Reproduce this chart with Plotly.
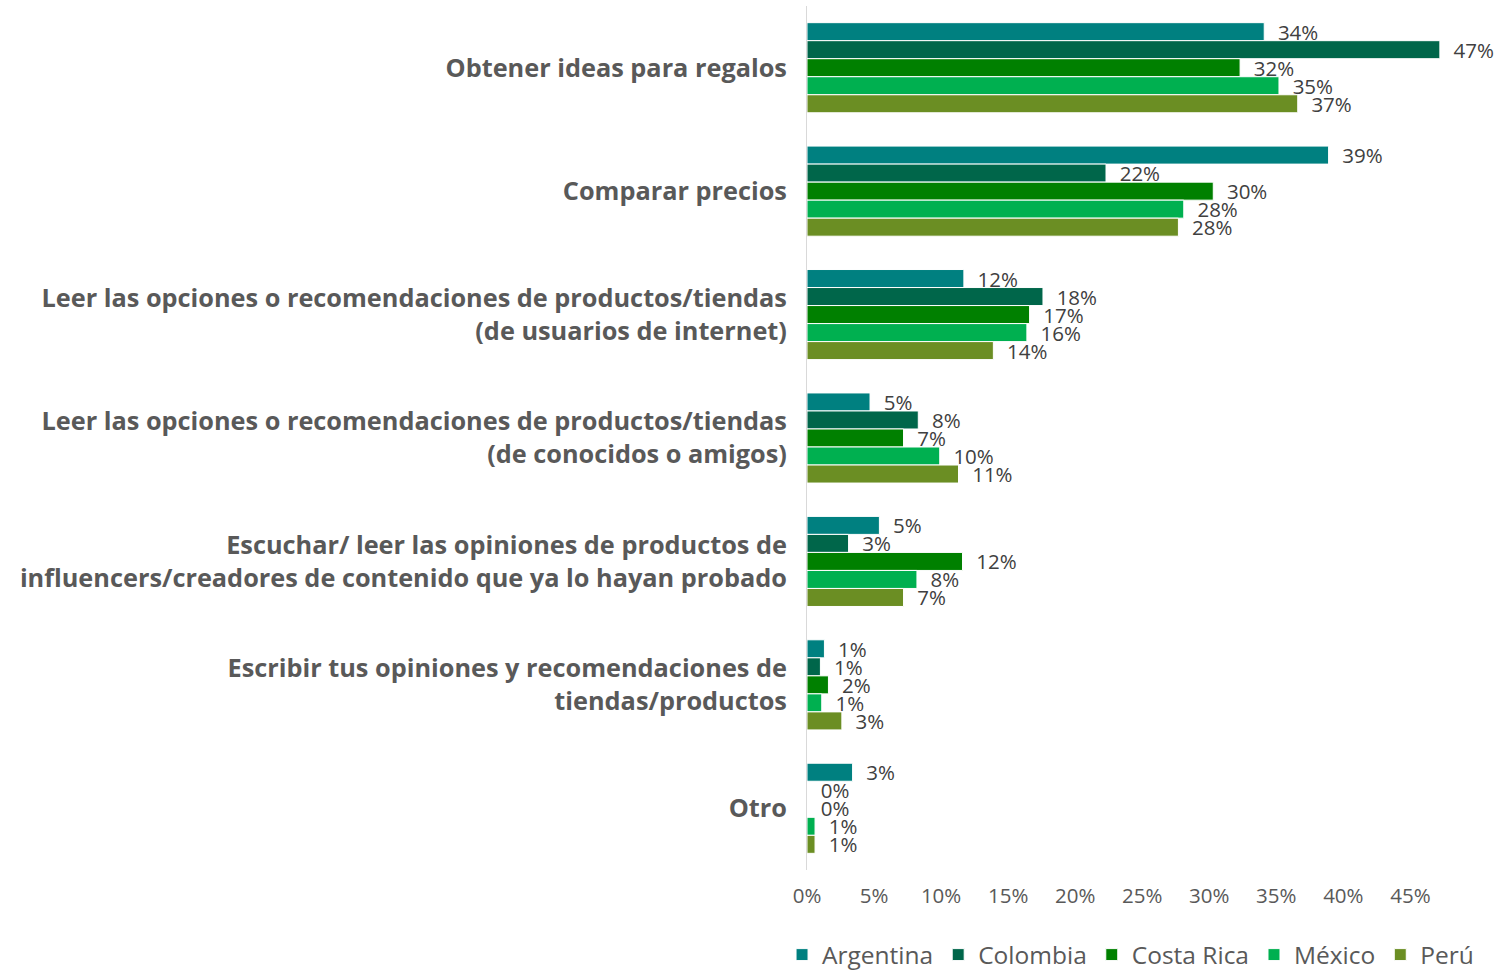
import plotly.graph_objects as go

categories = [
    "Obtener ideas para regalos",
    "Comparar precios",
    "Leer las opciones o recomendaciones de productos/tiendas<br>(de usuarios de internet)",
    "Leer las opciones o recomendaciones de productos/tiendas<br>(de conocidos o amigos)",
    "Escuchar/ leer las opiniones de productos de<br>influencers/creadores de contenido que ya lo hayan probado",
    "Escribir tus opiniones y recomendaciones de<br>tiendas/productos",
    "Otro",
]

argentina = [0.341, 0.389, 0.117, 0.047, 0.054, 0.013, 0.034]
colombia = [0.472, 0.223, 0.176, 0.083, 0.031, 0.010, 0.0]
costa_rica = [0.323, 0.303, 0.166, 0.072, 0.116, 0.016, 0.0]
mexico = [0.352, 0.281, 0.164, 0.099, 0.082, 0.011, 0.006]
peru = [0.366, 0.277, 0.139, 0.113, 0.072, 0.026, 0.006]

series = [
    ("Argentina", argentina, "#008080"),
    ("Colombia", colombia, "#00664A"),
    ("Costa Rica", costa_rica, "#008000"),
    ("México", mexico, "#00B050"),
    ("Perú", peru, "#6B8E23"),
]

tick_vals = [0, 0.05, 0.10, 0.15, 0.20, 0.25, 0.30, 0.35, 0.40, 0.45]

fig = go.Figure()
for name, vals, color in series:
    fig.add_trace(go.Bar(
        y=categories, x=vals, name=name, orientation="h",
        marker=dict(color=color, line=dict(color="white", width=1)),
        texttemplate="  %{x:.0%}", textposition="outside",
        textfont=dict(family="Open Sans", size=20.5, color="#404040"),
        constraintext="none", cliponaxis=False,
    ))

fig.update_layout(
    barmode="group", bargap=0.27, bargroupgap=0,
    width=1496, height=972,
    margin=dict(l=807, r=32, t=6, b=102, autoexpand=False),
    paper_bgcolor="white", plot_bgcolor="white",
    font=dict(family="Open Sans", color="#595959"),
    showlegend=True,
    legend=dict(orientation="h", x=-0.038, xanchor="left", y=-0.098, yanchor="middle",
                font=dict(size=24.5, color="#595959"), traceorder="normal",
                itemwidth=30),
)
fig.update_yaxes(autorange="reversed", showline=True, linecolor="#D9D9D9", linewidth=1,
                 ticks="", ticklen=0,
                 tickfont=dict(family="Open Sans", size=25.3, color="#595959", weight="bold"),
                 ticklabelstandoff=14)
fig.update_xaxes(range=[0, 0.49], tickvals=tick_vals, tickformat=".0%",
                 showgrid=False, zeroline=False, showline=False,
                 tickfont=dict(family="Open Sans", size=20.5, color="#595959"),
                 ticklabelstandoff=11)

fig.write_html(
    "out.html",
    config={"displayModeBar": False},
    post_script="document.body.style.margin='0';document.body.style.overflow='hidden';",
)
